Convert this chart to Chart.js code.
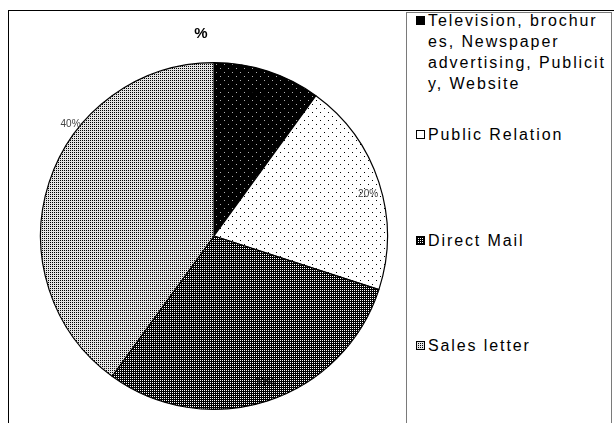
<!DOCTYPE html>
<html>
<head>
<meta charset="utf-8">
<script src="https://cdn.jsdelivr.net/npm/chart.js@4.4.1/dist/chart.umd.min.js"></script>
<style>
  body { margin: 0; background: #fff; font-family: "Liberation Sans", Arial, sans-serif; }
  #wrap { position: relative; width: 614px; height: 423px; overflow: hidden; }
  #frame { position: absolute; left: 8px; top: 10px; width: 700px; height: 500px;
           border-top: 1px solid #000; border-left: 1px solid #000; }
  #legendBox { position: absolute; left: 406px; top: 12px; width: 204px; height: 500px;
               border: 1px solid #7a7a7a; }
  #title { position: absolute; left: 181px; top: 24px; width: 40px; text-align: center;
           font-weight: bold; font-size: 15px; }
  #chartBox { position: absolute; left: 0; top: 0; width: 406px; height: 423px; }
  .item { position: absolute; left: 428px; font-size: 16px; line-height: 21px;
          letter-spacing: 1.9px; white-space: pre; color: #000; }
  .item canvas { position: absolute; left: -12px; top: 6px; }
</style>
</head>
<body>
<div id="wrap">
  <div id="frame"></div>
  <div id="legendBox"></div>
  <div id="chartBox"><canvas id="pie" width="406" height="423"></canvas></div>
  <div id="title">%</div>
  <div id="legend"></div>
</div>
<script>
// data
const categories = [
    ['Television, brochur', 'es, Newspaper', 'advertising, Publicit', 'y, Website'],
    'Public Relation',
    'Direct Mail',
    'Sales letter'
]
const shares = [10, 20, 30, 40]

// look of each slice (dot patterns like the old b/w office charts)
const sliceLook = [
    { bg: '#000', fg: '#b0b0b0', size: 8, dots: [[0, 0], [4, 4]], swatch: '#000' },
    { bg: '#fff', fg: '#000', size: 8, dots: [[0, 0], [4, 4]], swatch: '#fff' },
    { bg: '#000', fg: '#fff', size: 2, dots: [[0, 0]], swatch: null },
    { bg: '#e4e4e4', fg: '#000', size: 2, dots: [[0, 0]], swatch: null }
]
// where the percentage text sits: fraction of radius, extra turn in degrees
const labelSpot = [
    { r: 0.85, turn: 0, color: '#000' },
    { r: 0.92, turn: 3, color: '#444' },
    { r: 0.90, turn: -1, color: '#000' },
    { r: 1.05, turn: 20, color: '#444' }
]
const legendTops = [10, 124, 230, 335]

function makePattern(look) {
    const c = document.createElement('canvas')
    c.width = c.height = look.size
    const g = c.getContext('2d')
    g.fillStyle = look.bg
    g.fillRect(0, 0, look.size, look.size)
    g.fillStyle = look.fg
    look.dots.forEach(([x, y]) => g.fillRect(x, y, 1, 1))
    return g.createPattern(c, 'repeat')
}
const patterns = sliceLook.map(makePattern)

const pctLabels = {
    id: 'pctLabels',
    afterDatasetsDraw(chart) {
        const ctx = chart.ctx
        const data = chart.data.datasets[0].data
        const total = data.reduce((a, b) => a + b, 0)
        chart.getDatasetMeta(0).data.forEach((arc, i) => {
            const p = arc.getProps(['x', 'y', 'startAngle', 'endAngle', 'outerRadius'], true)
            const spot = labelSpot[i]
            const a = (p.startAngle + p.endAngle) / 2 + spot.turn * Math.PI / 180
            const x = p.x + Math.cos(a) * p.outerRadius * spot.r
            const y = p.y + Math.sin(a) * p.outerRadius * spot.r
            ctx.save()
            ctx.font = '10px "Liberation Sans", Arial, sans-serif'
            ctx.fillStyle = spot.color
            ctx.textAlign = 'center'
            ctx.textBaseline = 'middle'
            ctx.fillText(Math.round(data[i] / total * 100) + '%', x, y)
            ctx.restore()
        })
    }
}

new Chart(document.getElementById('pie'), {
    type: 'pie',
    data: {
        labels: categories,
        datasets: [{
            data: shares,
            backgroundColor: patterns,
            borderColor: '#000',
            borderWidth: 1.2,
            hoverOffset: 0
        }]
    },
    options: {
        responsive: false,
        animation: false,
        events: [],
        layout: { padding: { left: 40, right: 18, top: 62, bottom: 13 } },
        plugins: {
            legend: { display: false },
            title: { display: false },
            tooltip: { enabled: false }
        }
    },
    plugins: [pctLabels]
})

// legend, built from the same arrays
const legend = document.getElementById('legend')
categories.forEach((name, i) => {
    const item = document.createElement('div')
    item.className = 'item'
    item.style.top = legendTops[i] + 'px'
    item.textContent = Array.isArray(name) ? name.join('\n') : name
    const sw = document.createElement('canvas')
    sw.width = sw.height = 9
    const g = sw.getContext('2d')
    g.fillStyle = sliceLook[i].swatch || patterns[i]
    g.fillRect(0, 0, 9, 9)
    g.strokeStyle = '#000'
    g.lineWidth = 1
    g.strokeRect(0.5, 0.5, 8, 8)
    item.appendChild(sw)
    legend.appendChild(item)
})
</script>
</body>
</html>
